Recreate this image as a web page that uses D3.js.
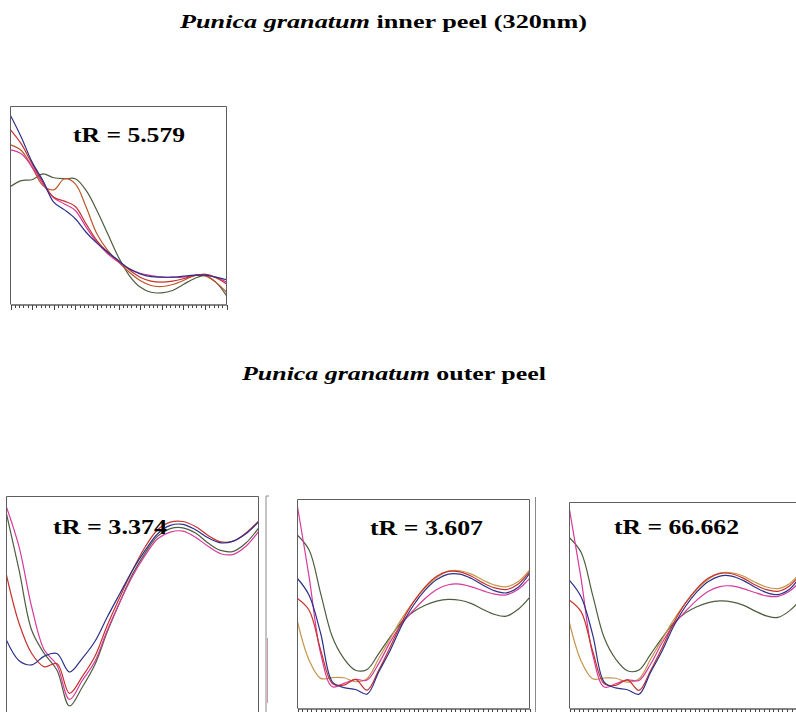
<!DOCTYPE html>
<html>
<head>
<meta charset="utf-8">
<script src="https://cdn.jsdelivr.net/npm/d3@7/dist/d3.min.js"></script>
<style>
  body { margin: 0; background: #fff; }
  svg { display: block; }
</style>
</head>
<body>
<svg id="chart" width="796" height="712"></svg>
<script>
// Wavelength grid (nm) shared by every spectrum
const wavelengths = [200, 210, 220, 230, 240, 250, 260, 270, 280, 290, 300,
                     310, 320, 330, 340, 350, 360, 370, 380, 390, 400];

// Relative absorbance (0-100) — inner peel, 320 nm, tR = 5.579
const innerBlue    = [95.5, 84.5, 71.9, 62.6, 51.7, 47.8, 43.3, 36.5, 31.0, 26.4, 22.2, 18.0, 15.5, 14.1, 13.8, 13.8, 14.3, 14.8, 14.8, 13.8, 12.5];
const innerRed     = [88.2, 81.1, 71.0, 61.8, 54.2, 52.2, 49.5, 40.7, 32.3, 26.4, 21.9, 17.5, 13.8, 11.8, 11.3, 11.8, 13.0, 14.6, 15.2, 13.5, 10.4];
const innerOrange  = [80.6, 77.8, 69.4, 60.1, 57.9, 63.5, 60.9, 49.2, 35.7, 27.3, 21.4, 16.3, 12.1, 9.6, 9.1, 10.1, 12.1, 14.6, 14.6, 11.3, 6.2];
const innerMagenta = [78.1, 76.1, 69.4, 60.9, 53.9, 50.8, 47.5, 39.1, 31.5, 25.6, 21.4, 18.0, 15.8, 14.6, 13.8, 13.8, 13.8, 14.6, 15.2, 13.8, 11.3];
const innerGreen   = [59.6, 62.6, 63.0, 66.0, 64.0, 63.5, 63.5, 57.6, 47.5, 35.7, 23.9, 14.6, 8.8, 6.2, 5.9, 7.1, 10.1, 13.0, 14.6, 11.3, 4.5];

// Outer peel, tR = 3.374
const outerABlue    = [33.9, 24.5, 22.6, 26.6, 27.8, 19.3, 25.5, 33.2, 44.6, 55.4, 66.1, 75.2, 82.9, 86.7, 87.2, 84.7, 81.0, 78.7, 79.5, 82.9, 88.2];
const outerARed     = [63.8, 41.6, 27.8, 21.7, 23.2, 9.5, 17.1, 26.3, 40.8, 53.8, 66.1, 76.8, 84.7, 88.2, 88.5, 86.2, 82.1, 79.1, 79.5, 83.2, 88.7];
const outerAMagenta = [95.1, 76.8, 49.2, 29.4, 22.5, 6.7, 15.3, 24.0, 38.5, 51.5, 63.3, 72.9, 80.6, 83.6, 84.1, 81.3, 77.1, 73.7, 73.4, 77.1, 83.9];
const outerAGreen   = [92.0, 66.1, 38.5, 27.8, 20.2, 3.7, 12.2, 22.5, 37.8, 51.5, 64.2, 74.0, 81.8, 85.2, 85.6, 83.2, 78.6, 75.2, 74.8, 78.6, 85.5];

// Outer peel, tR = 3.607 and tR = 66.662 (same spectral profile)
const outerBMagenta = [96.5, 63.0, 26.3, 10.4, 12.0, 13.9, 13.6, 21.5, 31.9, 40.7, 47.0, 52.6, 56.9, 59.2, 59.5, 58.2, 56.3, 54.7, 54.4, 56.9, 62.2];
const outerBGreen   = [82.9, 75.8, 55.0, 34.3, 23.9, 18.3, 18.7, 26.3, 34.3, 41.5, 46.3, 49.4, 51.4, 52.2, 51.8, 50.2, 47.4, 45.0, 44.2, 47.4, 53.1];
const outerBBlue    = [62.2, 54.2, 35.9, 12.8, 10.0, 9.1, 6.9, 17.5, 27.9, 39.9, 49.4, 56.6, 61.7, 64.3, 64.3, 62.2, 59.0, 56.3, 55.3, 57.9, 64.6];
const outerBRed     = [52.6, 47.0, 27.9, 12.0, 11.2, 13.9, 8.8, 18.3, 29.5, 41.5, 51.0, 58.2, 63.3, 65.6, 65.4, 63.3, 60.1, 57.7, 56.9, 59.5, 65.4];
const outerBTan     = [41.5, 23.1, 14.4, 14.8, 14.7, 12.8, 14.4, 23.9, 33.5, 43.1, 51.0, 57.7, 62.7, 65.7, 65.9, 64.3, 61.4, 59.0, 58.2, 60.6, 66.2];

const titles = ["Punica granatum", "Punica granatum"];
const titleSuffixes = [" inner peel (320nm)", " outer peel"];
const peakLabels = ["tR = 5.579", "tR = 3.374", "tR = 3.607", "tR = 66.662"];

const C = {
  navy: "#2c3189", red: "#c8322c", orange: "#b8582a", tan: "#c4964c",
  magenta: "#d63a9c", olive: "#4e5d3e", frame: "#5e5e5e"
};

const svg = d3.select("#chart");
const FONT = "'Liberation Serif', 'Times New Roman', serif";

function drawTitle(i, x, y, width) {
  const t = svg.append("text")
    .attr("x", x).attr("y", y)
    .attr("font-family", FONT).attr("font-size", 19.5).attr("font-weight", "bold")
    .attr("fill", "#000")
    .attr("textLength", width).attr("lengthAdjust", "spacingAndGlyphs");
  t.append("tspan").attr("font-style", "italic").text(titles[i]);
  t.append("tspan").text(titleSuffixes[i]);
}

function drawPanel(p) {
  const x = d3.scaleLinear().domain([200, 400]).range([p.left, p.right]);
  const y = d3.scaleLinear().domain([0, 100]).range([p.bottom, p.top]);
  const g = svg.append("g");

  const clipId = "clip" + p.id;
  g.append("clipPath").attr("id", clipId)
    .append("rect").attr("x", p.left).attr("y", p.top)
    .attr("width", p.right - p.left).attr("height", p.bottom - p.top);

  const line = d3.line()
    .x((d, i) => x(wavelengths[i]))
    .y(d => y(d))
    .curve(d3.curveCatmullRom.alpha(0.5));

  const curves = g.append("g").attr("clip-path", `url(#${clipId})`);
  p.series.forEach(s => {
    curves.append("path")
      .attr("d", line(s.values))
      .attr("fill", "none")
      .attr("stroke", s.color)
      .attr("stroke-width", 1.2)
      .attr("stroke-linejoin", "round");
  });

  // Frame: left, top, right
  g.append("path")
    .attr("d", `M${p.left},${p.frameBottom}V${p.top}H${p.right}V${p.frameBottom}`)
    .attr("fill", "none").attr("stroke", C.frame).attr("stroke-width", 1);

  // Bottom wavelength axis with minor and major ticks (unlabelled)
  if (p.axis) {
    const minor = d3.range(200, 401, 4);
    const major = d3.range(200, 401, 20);
    const ax = g.append("g").attr("transform", `translate(0,${p.bottom})`);
    ax.call(d3.axisBottom(x).tickValues(minor).tickSize(3).tickSizeOuter(0).tickFormat(""));
    const axMajor = g.append("g").attr("transform", `translate(0,${p.bottom})`);
    axMajor.call(d3.axisBottom(x).tickValues(major).tickSize(5).tickSizeOuter(0).tickFormat(""));
    g.selectAll(".domain").attr("stroke", C.frame).attr("stroke-width", 1.2);
    g.selectAll(".tick line").attr("stroke", "#444").attr("shape-rendering", "crispEdges");
  }

  svg.append("text")
    .attr("x", p.label.x).attr("y", p.label.y)
    .attr("font-family", FONT).attr("font-size", 20.5).attr("font-weight", "bold")
    .attr("fill", "#000")
    .attr("textLength", p.label.w).attr("lengthAdjust", "spacingAndGlyphs")
    .text(peakLabels[p.id]);
}

drawTitle(0, 180, 28, 407);
drawTitle(1, 242, 380, 304);

drawPanel({
  id: 0, left: 10.5, right: 226.5, top: 106.5, bottom: 304.5, frameBottom: 304.5, axis: true,
  label: { x: 73, y: 142, w: 112 },
  series: [
    { values: innerGreen, color: C.olive },
    { values: innerOrange, color: C.orange },
    { values: innerMagenta, color: C.magenta },
    { values: innerRed, color: C.red },
    { values: innerBlue, color: C.navy }
  ]
});

drawPanel({
  id: 1, left: 6.5, right: 258.5, top: 496.5, bottom: 714, frameBottom: 714, axis: false,
  label: { x: 53, y: 534, w: 114 },
  series: [
    { values: outerAGreen, color: C.olive },
    { values: outerAMagenta, color: C.magenta },
    { values: outerARed, color: C.red },
    { values: outerABlue, color: C.navy }
  ]
});

const outerBSeries = [
  { values: outerBGreen, color: C.olive },
  { values: outerBTan, color: C.tan },
  { values: outerBMagenta, color: C.magenta },
  { values: outerBRed, color: C.red },
  { values: outerBBlue, color: C.navy }
];

drawPanel({
  id: 2, left: 297.5, right: 529.5, top: 499.5, bottom: 708.5, frameBottom: 708.5, axis: true,
  label: { x: 370, y: 535, w: 113 },
  series: outerBSeries
});

drawPanel({
  id: 3, left: 569.5, right: 801, top: 502.5, bottom: 708.5, frameBottom: 708.5, axis: true,
  label: { x: 614, y: 534, w: 125 },
  series: outerBSeries
});

// Edges of neighbouring panels
svg.append("path").attr("d", "M266,496V712M266,496H269")
  .attr("stroke", "#8a8a8a").attr("fill", "none");
svg.append("path").attr("d", "M267.5,638V703")
  .attr("stroke", "#c9a0a0").attr("fill", "none");
svg.append("path").attr("d", "M535.5,497V712")
  .attr("stroke", "#8a8a8a").attr("fill", "none");
</script>
</body>
</html>
